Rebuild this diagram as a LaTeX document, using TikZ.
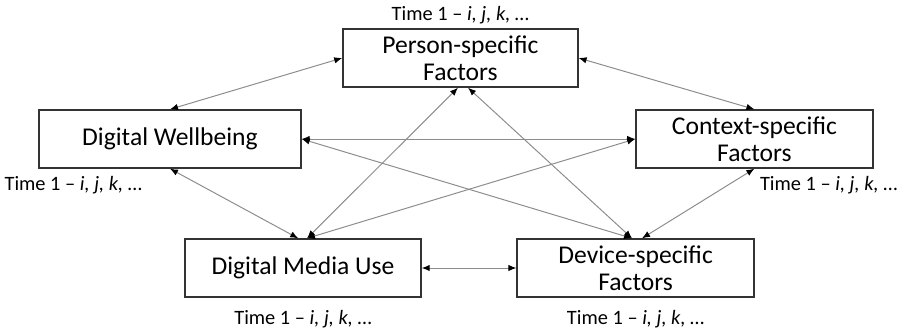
\documentclass[tikz,border=0pt]{standalone}
\usepackage{fontspec}
\setmainfont{Carlito}
\usetikzlibrary{arrows.meta,positioning}

\begin{document}
\begin{tikzpicture}[
  box/.style={draw=black!80,line width=1pt,minimum height=1.45cm,align=center,
    inner sep=1pt,font=\fontsize{18.2}{19.5}\selectfont},
  lbl/.style={inner sep=0pt,font=\fontsize{14.5}{16}\selectfont},
  link/.style={draw=black!45,line width=0.7pt,
    {Latex[black,length=0.2cm,width=0.16cm]}-{Latex[black,length=0.2cm,width=0.16cm]}}
]
\useasboundingbox (0,0) rectangle (22.525,8.275);

% the five factor boxes
\node[box,minimum width=5.875cm] (person) at (11.51,6.825) {Person-specific\\Factors};
\node[box,minimum width=6.55cm] (well) at (4.25,4.8) {Digital Wellbeing};
\node[box,minimum width=5.925cm] (context) at (18.86,4.8) {Context-specific\\Factors};
\node[box,minimum width=5.9cm] (dmu) at (7.575,1.575) {Digital Media Use};
\node[box,minimum width=5.925cm] (device) at (15.89,1.575) {Device-specific\\Factors};

% time labels
\node[lbl,above=0.1cm of person] (tperson) {Time 1 – \textit{i, j, k,} …};
\node[lbl,anchor=north west] (twell) at ([shift={(-0.85,-0.18)}]well.south west) {Time 1 – \textit{i, j, k,} …};
\node[lbl,anchor=north east] (tcontext) at ([shift={(0.6,-0.18)}]context.south east) {Time 1 – \textit{i, j, k,} …};
\node[lbl,below=0.3cm of dmu] (tdmu) {Time 1 – \textit{i, j, k,} …};
\node[lbl,below=0.3cm of device] (tdevice) {Time 1 – \textit{i, j, k,} …};

% links
\draw[link] (well.north) -- (person.west);
\draw[link] (person.east) -- (context.north);
\draw[link] (well.east) -- (context.west);
\draw[link] (well.south) -- ([xshift=-0.12cm]dmu.north);
\draw[link] (context.south) -- ([xshift=0.16cm]device.north);
\draw[link] (dmu.east) -- (device.west);
\draw[link] ([xshift=0.1cm]dmu.north) -- ([xshift=-0.06cm]person.south);
\draw[link] ([xshift=-0.09cm]device.north) -- ([xshift=0.19cm]person.south);
\draw[link] (well.east) -- ([xshift=-0.09cm]device.north);
\draw[link] ([xshift=0.1cm]dmu.north) -- (context.west);
\end{tikzpicture}
\end{document}
